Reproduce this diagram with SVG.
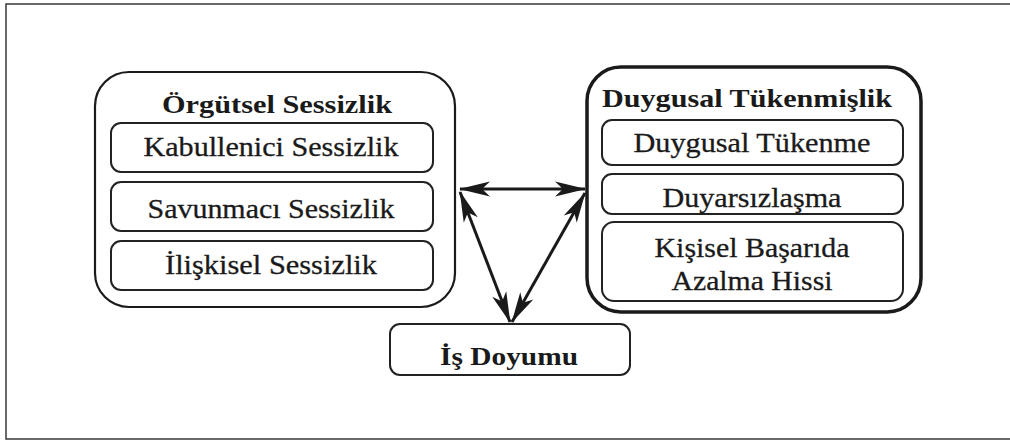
<svg xmlns="http://www.w3.org/2000/svg" width="1010" height="442" viewBox="0 0 1010 442">
<defs>
<style>
.frame{fill:none;stroke:#444;stroke-width:1.6}
.big{fill:#fff;stroke:#1a1a1a}
.inner{fill:#fff;stroke:#222;stroke-width:2}
.t{font-family:"Liberation Serif","Times New Roman",serif;font-size:27px;fill:#1a1a1a;stroke:#1a1a1a;stroke-width:0.3;text-anchor:middle}
.b{font-family:"Liberation Serif","Times New Roman",serif;font-size:26px;font-weight:bold;fill:#1a1a1a;text-anchor:middle}
.conn{stroke:#1a1a1a;stroke-width:3;fill:none;marker-start:url(#ah);marker-end:url(#ah)}
</style>
<marker id="ah" markerUnits="userSpaceOnUse" viewBox="-32 -10 34 20" refX="0" refY="0" markerWidth="34" markerHeight="20" orient="auto-start-reverse">
<path d="M1,0 L-30,-7.5 L-22,0 L-30,7.5 Z" fill="#1a1a1a"/>
</marker>
</defs>
<rect class="frame" x="6" y="4" width="1010" height="435"/>
<g id="orgutsel-sessizlik">
<rect class="big" x="95" y="72" width="360" height="235" rx="34" stroke-width="2.2"/>
<text class="b" x="277" y="113" textLength="230" lengthAdjust="spacingAndGlyphs">Örgütsel Sessizlik</text>
</g>
<g id="kabullenici">
<rect class="inner" x="111" y="123" width="322" height="49" rx="10"/>
<text class="t" x="271" y="156" textLength="255" lengthAdjust="spacingAndGlyphs">Kabullenici Sessizlik</text>
</g>
<g id="savunmaci">
<rect class="inner" x="111" y="182" width="322" height="49" rx="10"/>
<text class="t" x="271" y="218" textLength="247" lengthAdjust="spacingAndGlyphs">Savunmacı Sessizlik</text>
</g>
<g id="iliskisel">
<rect class="inner" x="111" y="241" width="322" height="49" rx="10"/>
<text class="t" x="271" y="274" textLength="212" lengthAdjust="spacingAndGlyphs">İlişkisel Sessizlik</text>
</g>
<g id="duygusal-tukenmislik">
<rect class="big" x="587" y="67" width="334" height="245" rx="34" stroke-width="3.5"/>
<text class="b" x="747" y="107" textLength="290" lengthAdjust="spacingAndGlyphs">Duygusal Tükenmişlik</text>
</g>
<g id="duygusal-tukenme">
<rect class="inner" x="602" y="120" width="301" height="45" rx="10"/>
<text class="t" x="752" y="152" textLength="237" lengthAdjust="spacingAndGlyphs">Duygusal Tükenme</text>
</g>
<g id="duyarsizlasma">
<rect class="inner" x="602" y="174" width="301" height="40" rx="10"/>
<text class="t" x="752" y="207" textLength="179" lengthAdjust="spacingAndGlyphs">Duyarsızlaşma</text>
</g>
<g id="kisisel-basari">
<rect class="inner" x="602" y="222" width="301" height="79" rx="12"/>
<text class="t" x="752" y="257" textLength="195" lengthAdjust="spacingAndGlyphs">Kişisel Başarıda</text>
<text class="t" x="752" y="290" textLength="161" lengthAdjust="spacingAndGlyphs">Azalma Hissi</text>
</g>
<g id="is-doyumu">
<rect class="inner" x="390" y="324" width="240" height="51" rx="10" stroke-width="2.4"/>
<text class="b" x="509" y="365" textLength="138" lengthAdjust="spacingAndGlyphs">İş Doyumu</text>
</g>
<g id="connectors">
<line class="conn" x1="460" y1="189" x2="585" y2="189"/>
<line class="conn" x1="460" y1="192" x2="510" y2="322"/>
<line class="conn" x1="585" y1="193" x2="512" y2="322"/>
</g>
</svg>
